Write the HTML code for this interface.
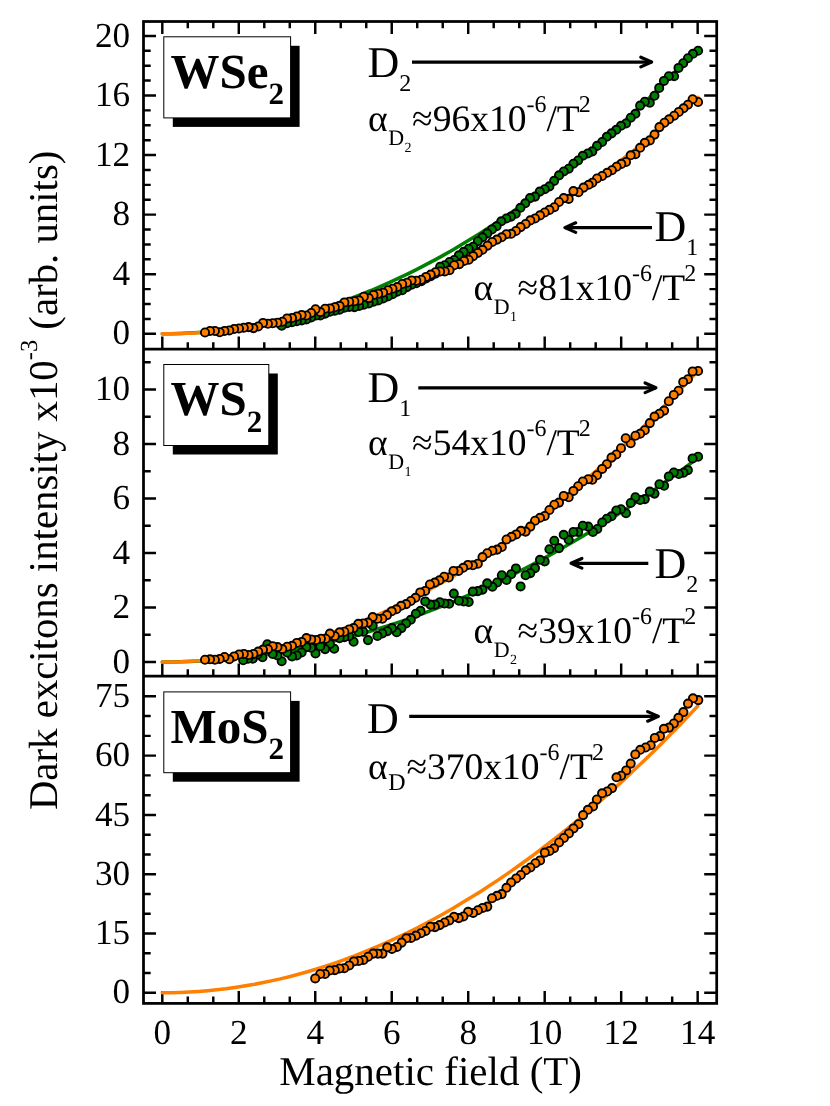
<!DOCTYPE html>
<html><head><meta charset="utf-8"><title>Dark excitons intensity</title>
<style>html,body{margin:0;padding:0;background:#fff}body{width:830px;height:1106px;overflow:hidden;font-family:"Liberation Serif",serif}</style>
</head><body>
<svg width="830" height="1106" viewBox="0 0 830 1106" text-rendering="geometricPrecision" style="display:block;will-change:transform;font-family:'Liberation Serif',serif">
<rect x="0" y="0" width="830" height="1106" fill="#fff"/>
<g stroke="#000" stroke-width="2.45" fill="none">
<rect x="143.5" y="21.5" width="573.2" height="981.9" stroke-width="2.75"/>
<line x1="143.5" y1="349.0" x2="716.7" y2="349.0" stroke-width="2.75"/>
<line x1="143.5" y1="676.1" x2="716.7" y2="676.1" stroke-width="2.75"/>
<path d="M162.30 21.5v12.5M162.30 349.0v-12.5M162.30 676.1v-12.5M162.30 1003.4v-12.5M187.79 21.5v6.8M187.79 349.0v-6.8M187.79 676.1v-6.8M187.79 1003.4v-6.8M213.29 21.5v6.8M213.29 349.0v-6.8M213.29 676.1v-6.8M213.29 1003.4v-6.8M238.78 21.5v12.5M238.78 349.0v-12.5M238.78 676.1v-12.5M238.78 1003.4v-12.5M264.27 21.5v6.8M264.27 349.0v-6.8M264.27 676.1v-6.8M264.27 1003.4v-6.8M289.77 21.5v6.8M289.77 349.0v-6.8M289.77 676.1v-6.8M289.77 1003.4v-6.8M315.26 21.5v12.5M315.26 349.0v-12.5M315.26 676.1v-12.5M315.26 1003.4v-12.5M340.75 21.5v6.8M340.75 349.0v-6.8M340.75 676.1v-6.8M340.75 1003.4v-6.8M366.25 21.5v6.8M366.25 349.0v-6.8M366.25 676.1v-6.8M366.25 1003.4v-6.8M391.74 21.5v12.5M391.74 349.0v-12.5M391.74 676.1v-12.5M391.74 1003.4v-12.5M417.23 21.5v6.8M417.23 349.0v-6.8M417.23 676.1v-6.8M417.23 1003.4v-6.8M442.73 21.5v6.8M442.73 349.0v-6.8M442.73 676.1v-6.8M442.73 1003.4v-6.8M468.22 21.5v12.5M468.22 349.0v-12.5M468.22 676.1v-12.5M468.22 1003.4v-12.5M493.71 21.5v6.8M493.71 349.0v-6.8M493.71 676.1v-6.8M493.71 1003.4v-6.8M519.21 21.5v6.8M519.21 349.0v-6.8M519.21 676.1v-6.8M519.21 1003.4v-6.8M544.70 21.5v12.5M544.70 349.0v-12.5M544.70 676.1v-12.5M544.70 1003.4v-12.5M570.19 21.5v6.8M570.19 349.0v-6.8M570.19 676.1v-6.8M570.19 1003.4v-6.8M595.69 21.5v6.8M595.69 349.0v-6.8M595.69 676.1v-6.8M595.69 1003.4v-6.8M621.18 21.5v12.5M621.18 349.0v-12.5M621.18 676.1v-12.5M621.18 1003.4v-12.5M646.67 21.5v6.8M646.67 349.0v-6.8M646.67 676.1v-6.8M646.67 1003.4v-6.8M672.17 21.5v6.8M672.17 349.0v-6.8M672.17 676.1v-6.8M672.17 1003.4v-6.8M697.66 21.5v12.5M697.66 349.0v-12.5M697.66 676.1v-12.5M697.66 1003.4v-12.5M143.5 333.80h12.5M716.7 333.80h-12.5M143.5 274.22h12.5M716.7 274.22h-12.5M143.5 214.64h12.5M716.7 214.64h-12.5M143.5 155.06h12.5M716.7 155.06h-12.5M143.5 95.48h12.5M716.7 95.48h-12.5M143.5 35.90h12.5M716.7 35.90h-12.5M143.5 318.91h7.2M716.7 318.91h-7.2M143.5 304.01h7.2M716.7 304.01h-7.2M143.5 289.12h7.2M716.7 289.12h-7.2M143.5 259.33h7.2M716.7 259.33h-7.2M143.5 244.43h7.2M716.7 244.43h-7.2M143.5 229.54h7.2M716.7 229.54h-7.2M143.5 199.75h7.2M716.7 199.75h-7.2M143.5 184.85h7.2M716.7 184.85h-7.2M143.5 169.96h7.2M716.7 169.96h-7.2M143.5 140.17h7.2M716.7 140.17h-7.2M143.5 125.27h7.2M716.7 125.27h-7.2M143.5 110.38h7.2M716.7 110.38h-7.2M143.5 80.59h7.2M716.7 80.59h-7.2M143.5 65.69h7.2M716.7 65.69h-7.2M143.5 50.80h7.2M716.7 50.80h-7.2M143.5 662.00h12.5M716.7 662.00h-12.5M143.5 607.50h12.5M716.7 607.50h-12.5M143.5 553.00h12.5M716.7 553.00h-12.5M143.5 498.50h12.5M716.7 498.50h-12.5M143.5 444.00h12.5M716.7 444.00h-12.5M143.5 389.50h12.5M716.7 389.50h-12.5M143.5 634.75h7.2M716.7 634.75h-7.2M143.5 580.25h7.2M716.7 580.25h-7.2M143.5 525.75h7.2M716.7 525.75h-7.2M143.5 471.25h7.2M716.7 471.25h-7.2M143.5 416.75h7.2M716.7 416.75h-7.2M143.5 362.25h7.2M716.7 362.25h-7.2M143.5 992.80h12.5M716.7 992.80h-12.5M143.5 933.50h12.5M716.7 933.50h-12.5M143.5 874.21h12.5M716.7 874.21h-12.5M143.5 814.91h12.5M716.7 814.91h-12.5M143.5 755.62h12.5M716.7 755.62h-12.5M143.5 696.33h12.5M716.7 696.33h-12.5M143.5 973.03h7.2M716.7 973.03h-7.2M143.5 953.27h7.2M716.7 953.27h-7.2M143.5 913.74h7.2M716.7 913.74h-7.2M143.5 893.97h7.2M716.7 893.97h-7.2M143.5 854.44h7.2M716.7 854.44h-7.2M143.5 834.68h7.2M716.7 834.68h-7.2M143.5 795.15h7.2M716.7 795.15h-7.2M143.5 775.38h7.2M716.7 775.38h-7.2M143.5 735.86h7.2M716.7 735.86h-7.2M143.5 716.09h7.2M716.7 716.09h-7.2"/>
</g>
<polyline points="162.3,333.8 171.4,333.7 180.4,333.5 189.5,333.1 198.6,332.5 207.7,331.8 216.7,330.9 225.8,329.8 234.9,328.6 244.0,327.2 253.0,325.6 262.1,323.9 271.2,322.0 280.3,320.0 289.3,317.7 298.4,315.4 307.5,312.8 316.6,310.1 325.6,307.3 334.7,304.2 343.8,301.0 352.9,297.7 361.9,294.1 371.0,290.5 380.1,286.6 389.1,282.6 398.2,278.4 407.3,274.1 416.4,269.6 425.4,264.9 434.5,260.1 443.6,255.1 452.7,249.9 461.7,244.6 470.8,239.1 479.9,233.4 489.0,227.6 498.0,221.6 507.1,215.5 516.2,209.2 525.3,202.7 534.3,196.1 543.4,189.3 552.5,182.3 561.6,175.2 570.6,167.9 579.7,160.4 588.8,152.8 597.8,145.0 606.9,137.1 616.0,129.0 625.1,120.7 634.1,112.2 643.2,103.6 652.3,94.9 661.4,85.9 670.4,76.8 679.5,67.6 688.6,58.2 697.7,48.6" fill="none" stroke="#008000" stroke-width="3.5" stroke-linecap="round"/>
<polyline points="162.3,333.8 171.4,333.7 180.4,333.5 189.5,333.2 198.6,332.7 207.7,332.1 216.7,331.4 225.8,330.5 234.9,329.5 244.0,328.3 253.0,327.0 262.1,325.6 271.2,324.0 280.3,322.3 289.3,320.5 298.4,318.5 307.5,316.4 316.6,314.2 325.6,311.8 334.7,309.3 343.8,306.6 352.9,303.8 361.9,300.9 371.0,297.9 380.1,294.7 389.1,291.3 398.2,287.9 407.3,284.3 416.4,280.5 425.4,276.7 434.5,272.7 443.6,268.5 452.7,264.2 461.7,259.8 470.8,255.3 479.9,250.6 489.0,245.8 498.0,240.8 507.1,235.7 516.2,230.5 525.3,225.1 534.3,219.6 543.4,214.0 552.5,208.2 561.6,202.3 570.6,196.2 579.7,190.1 588.8,183.7 597.8,177.3 606.9,170.7 616.0,164.0 625.1,157.1 634.1,150.1 643.2,143.0 652.3,135.7 661.4,128.3 670.4,120.8 679.5,113.1 688.6,105.3 697.7,97.3" fill="none" stroke="#ff7f00" stroke-width="3.5" stroke-linecap="round"/>
<polyline points="162.3,662.0 171.4,661.9 180.4,661.8 189.5,661.5 198.6,661.1 207.7,660.5 216.7,659.9 225.8,659.1 234.9,658.2 244.0,657.3 253.0,656.1 262.1,654.9 271.2,653.6 280.3,652.1 289.3,650.5 298.4,648.8 307.5,647.0 316.6,645.1 325.6,643.0 334.7,640.8 343.8,638.6 352.9,636.2 361.9,633.6 371.0,631.0 380.1,628.2 389.1,625.4 398.2,622.4 407.3,619.3 416.4,616.0 425.4,612.7 434.5,609.2 443.6,605.7 452.7,602.0 461.7,598.2 470.8,594.2 479.9,590.2 489.0,586.0 498.0,581.8 507.1,577.4 516.2,572.9 525.3,568.2 534.3,563.5 543.4,558.6 552.5,553.6 561.6,548.5 570.6,543.3 579.7,538.0 588.8,532.5 597.8,527.0 606.9,521.3 616.0,515.5 625.1,509.6 634.1,503.5 643.2,497.4 652.3,491.1 661.4,484.7 670.4,478.2 679.5,471.6 688.6,464.8 697.7,458.0" fill="none" stroke="#008000" stroke-width="3.5" stroke-linecap="round"/>
<polyline points="162.3,662.0 171.4,661.9 180.4,661.7 189.5,661.2 198.6,660.7 207.7,659.9 216.7,659.0 225.8,657.9 234.9,656.6 244.0,655.2 253.0,653.6 262.1,651.9 271.2,650.0 280.3,647.9 289.3,645.6 298.4,643.2 307.5,640.6 316.6,637.8 325.6,634.9 334.7,631.8 343.8,628.6 352.9,625.1 361.9,621.5 371.0,617.8 380.1,613.8 389.1,609.7 398.2,605.5 407.3,601.0 416.4,596.4 425.4,591.7 434.5,586.7 443.6,581.6 452.7,576.4 461.7,570.9 470.8,565.3 479.9,559.6 489.0,553.6 498.0,547.5 507.1,541.3 516.2,534.8 525.3,528.2 534.3,521.4 543.4,514.5 552.5,507.4 561.6,500.1 570.6,492.7 579.7,485.1 588.8,477.3 597.8,469.3 606.9,461.2 616.0,452.9 625.1,444.5 634.1,435.9 643.2,427.1 652.3,418.2 661.4,409.0 670.4,399.8 679.5,390.3 688.6,380.7 697.7,370.9" fill="none" stroke="#ff7f00" stroke-width="3.5" stroke-linecap="round"/>
<polyline points="162.3,992.8 171.4,992.7 180.4,992.5 189.5,992.1 198.6,991.5 207.7,990.7 216.7,989.8 225.8,988.8 234.9,987.5 244.0,986.1 253.0,984.6 262.1,982.8 271.2,980.9 280.3,978.9 289.3,976.7 298.4,974.3 307.5,971.7 316.6,969.0 325.6,966.1 334.7,963.1 343.8,959.9 352.9,956.5 361.9,952.9 371.0,949.2 380.1,945.4 389.1,941.3 398.2,937.1 407.3,932.8 416.4,928.2 425.4,923.5 434.5,918.7 443.6,913.7 452.7,908.5 461.7,903.1 470.8,897.6 479.9,891.9 489.0,886.1 498.0,880.1 507.1,873.9 516.2,867.5 525.3,861.0 534.3,854.4 543.4,847.5 552.5,840.5 561.6,833.4 570.6,826.0 579.7,818.5 588.8,810.9 597.8,803.1 606.9,795.1 616.0,786.9 625.1,778.6 634.1,770.1 643.2,761.5 652.3,752.7 661.4,743.7 670.4,734.5 679.5,725.2 688.6,715.8 697.7,706.1" fill="none" stroke="#ff7f00" stroke-width="3.5" stroke-linecap="round"/>
<g fill="#008000" stroke="#000" stroke-width="1.85"><circle cx="698.1" cy="50.7" r="4.1"/><circle cx="692.9" cy="53.8" r="4.1"/><circle cx="687.9" cy="58.2" r="4.1"/><circle cx="683.2" cy="63.2" r="4.1"/><circle cx="678.5" cy="67.9" r="4.1"/><circle cx="674.1" cy="76.2" r="4.1"/><circle cx="668.8" cy="76.2" r="4.1"/><circle cx="663.9" cy="80.9" r="4.1"/><circle cx="659.2" cy="87.9" r="4.1"/><circle cx="654.5" cy="95.8" r="4.1"/><circle cx="649.8" cy="102.8" r="4.1"/><circle cx="644.8" cy="101.7" r="4.1"/><circle cx="640.1" cy="105.6" r="4.1"/><circle cx="635.4" cy="113.8" r="4.1"/><circle cx="630.7" cy="117.7" r="4.1"/><circle cx="626.0" cy="123.5" r="4.1"/><circle cx="621.0" cy="125.8" r="4.1"/><circle cx="616.3" cy="129.8" r="4.1"/><circle cx="611.5" cy="133.4" r="4.1"/><circle cx="606.8" cy="136.8" r="4.1"/><circle cx="602.1" cy="142.0" r="4.1"/><circle cx="597.0" cy="145.9" r="4.1"/><circle cx="592.3" cy="151.4" r="4.1"/><circle cx="587.8" cy="153.5" r="4.1"/><circle cx="582.8" cy="155.8" r="4.1"/><circle cx="578.1" cy="160.5" r="4.1"/><circle cx="573.4" cy="163.7" r="4.1"/><circle cx="568.7" cy="168.7" r="4.1"/><circle cx="563.7" cy="171.5" r="4.1"/><circle cx="559.0" cy="175.4" r="4.1"/><circle cx="554.1" cy="180.9" r="4.1"/><circle cx="549.4" cy="186.4" r="4.1"/><circle cx="544.7" cy="189.2" r="4.1"/><circle cx="539.7" cy="191.6" r="4.1"/><circle cx="535.0" cy="196.6" r="4.1"/><circle cx="530.0" cy="198.1" r="4.1"/><circle cx="525.3" cy="203.3" r="4.1"/><circle cx="520.4" cy="207.8" r="4.1"/><circle cx="515.7" cy="213.8" r="4.1"/><circle cx="511.0" cy="216.6" r="4.1"/><circle cx="506.3" cy="218.5" r="4.1"/><circle cx="501.3" cy="221.3" r="4.1"/><circle cx="496.6" cy="226.3" r="4.1"/><circle cx="491.9" cy="229.5" r="4.1"/><circle cx="487.2" cy="233.4" r="4.1"/><circle cx="482.5" cy="237.3" r="4.1"/><circle cx="477.8" cy="241.2" r="4.1"/><circle cx="473.1" cy="246.7" r="4.1"/><circle cx="468.7" cy="248.7" r="4.1"/><circle cx="463.6" cy="251.9" r="4.1"/><circle cx="458.9" cy="255.3" r="4.1"/><circle cx="454.2" cy="260.0" r="4.1"/><circle cx="449.5" cy="262.0" r="4.1"/><circle cx="444.8" cy="265.2" r="4.1"/><circle cx="440.1" cy="266.7" r="4.1"/><circle cx="435.4" cy="273.8" r="4.1"/><circle cx="430.7" cy="276.1" r="4.1"/><circle cx="426.0" cy="278.5" r="4.1"/><circle cx="421.3" cy="281.2" r="4.1"/><circle cx="416.3" cy="283.2" r="4.1"/><circle cx="411.6" cy="284.8" r="4.1"/><circle cx="406.9" cy="287.1" r="4.1"/><circle cx="402.2" cy="290.2" r="4.1"/><circle cx="397.2" cy="291.8" r="4.1"/><circle cx="392.5" cy="294.2" r="4.1"/><circle cx="387.8" cy="296.5" r="4.1"/><circle cx="383.1" cy="298.5" r="4.1"/><circle cx="378.2" cy="300.4" r="4.1"/><circle cx="373.5" cy="301.7" r="4.1"/><circle cx="368.8" cy="303.5" r="4.1"/><circle cx="363.8" cy="304.8" r="4.1"/><circle cx="359.1" cy="305.9" r="4.1"/><circle cx="354.4" cy="307.1" r="4.1"/><circle cx="349.2" cy="306.9" r="4.1"/><circle cx="344.4" cy="307.8" r="4.1"/><circle cx="339.6" cy="309.8" r="4.1"/><circle cx="334.8" cy="310.7" r="4.1"/><circle cx="329.9" cy="311.7" r="4.1"/><circle cx="325.1" cy="313.6" r="4.1"/><circle cx="320.3" cy="315.5" r="4.1"/><circle cx="316.1" cy="315.5" r="4.1"/><circle cx="311.2" cy="317.5" r="4.1"/><circle cx="306.4" cy="319.4" r="4.1"/><circle cx="301.6" cy="320.4" r="4.1"/><circle cx="296.8" cy="321.3" r="4.1"/><circle cx="292.0" cy="322.3" r="4.1"/><circle cx="287.1" cy="323.3" r="4.1"/><circle cx="281.7" cy="325.8" r="4.1"/></g>
<g fill="#ff7f00" stroke="#000" stroke-width="1.85"><circle cx="698.1" cy="102.0" r="4.1"/><circle cx="692.6" cy="99.2" r="4.1"/><circle cx="687.9" cy="104.7" r="4.1"/><circle cx="683.5" cy="108.3" r="4.1"/><circle cx="678.8" cy="111.9" r="4.1"/><circle cx="674.1" cy="115.7" r="4.1"/><circle cx="669.1" cy="119.3" r="4.1"/><circle cx="664.4" cy="122.7" r="4.1"/><circle cx="659.4" cy="127.1" r="4.1"/><circle cx="654.5" cy="134.6" r="4.1"/><circle cx="649.8" cy="140.4" r="4.1"/><circle cx="644.8" cy="142.8" r="4.1"/><circle cx="640.1" cy="147.8" r="4.1"/><circle cx="635.4" cy="154.2" r="4.1"/><circle cx="630.7" cy="155.3" r="4.1"/><circle cx="626.0" cy="162.0" r="4.1"/><circle cx="621.3" cy="163.9" r="4.1"/><circle cx="616.6" cy="166.7" r="4.1"/><circle cx="611.9" cy="170.2" r="4.1"/><circle cx="607.2" cy="172.8" r="4.1"/><circle cx="602.1" cy="176.0" r="4.1"/><circle cx="597.0" cy="178.5" r="4.1"/><circle cx="592.3" cy="182.7" r="4.1"/><circle cx="588.6" cy="184.8" r="4.1"/><circle cx="583.5" cy="187.6" r="4.1"/><circle cx="578.5" cy="192.2" r="4.1"/><circle cx="573.4" cy="191.1" r="4.1"/><circle cx="568.7" cy="198.9" r="4.1"/><circle cx="563.7" cy="198.1" r="4.1"/><circle cx="559.0" cy="202.0" r="4.1"/><circle cx="554.3" cy="207.2" r="4.1"/><circle cx="549.4" cy="209.9" r="4.1"/><circle cx="544.7" cy="212.5" r="4.1"/><circle cx="540.0" cy="215.4" r="4.1"/><circle cx="535.0" cy="218.5" r="4.1"/><circle cx="530.3" cy="220.4" r="4.1"/><circle cx="525.6" cy="224.0" r="4.1"/><circle cx="520.6" cy="227.1" r="4.1"/><circle cx="515.9" cy="231.0" r="4.1"/><circle cx="511.2" cy="233.8" r="4.1"/><circle cx="506.3" cy="234.2" r="4.1"/><circle cx="501.6" cy="237.3" r="4.1"/><circle cx="496.9" cy="239.6" r="4.1"/><circle cx="492.2" cy="242.0" r="4.1"/><circle cx="487.5" cy="245.6" r="4.1"/><circle cx="482.5" cy="249.8" r="4.1"/><circle cx="477.8" cy="252.9" r="4.1"/><circle cx="473.1" cy="256.1" r="4.1"/><circle cx="468.7" cy="259.7" r="4.1"/><circle cx="464.0" cy="260.9" r="4.1"/><circle cx="459.3" cy="264.1" r="4.1"/><circle cx="454.2" cy="265.2" r="4.1"/><circle cx="449.5" cy="270.2" r="4.1"/><circle cx="444.8" cy="271.4" r="4.1"/><circle cx="440.1" cy="271.4" r="4.1"/><circle cx="435.4" cy="272.2" r="4.1"/><circle cx="430.7" cy="274.6" r="4.1"/><circle cx="426.0" cy="276.9" r="4.1"/><circle cx="421.3" cy="279.7" r="4.1"/><circle cx="416.3" cy="280.8" r="4.1"/><circle cx="411.6" cy="280.4" r="4.1"/><circle cx="406.9" cy="282.7" r="4.1"/><circle cx="402.2" cy="284.0" r="4.1"/><circle cx="397.2" cy="287.1" r="4.1"/><circle cx="392.5" cy="288.7" r="4.1"/><circle cx="387.8" cy="290.2" r="4.1"/><circle cx="383.1" cy="292.6" r="4.1"/><circle cx="378.2" cy="293.8" r="4.1"/><circle cx="373.5" cy="294.9" r="4.1"/><circle cx="368.8" cy="298.1" r="4.1"/><circle cx="363.8" cy="296.8" r="4.1"/><circle cx="359.1" cy="300.4" r="4.1"/><circle cx="354.4" cy="301.2" r="4.1"/><circle cx="349.2" cy="301.7" r="4.1"/><circle cx="344.4" cy="302.4" r="4.1"/><circle cx="339.6" cy="305.9" r="4.1"/><circle cx="334.8" cy="307.3" r="4.1"/><circle cx="329.9" cy="308.4" r="4.1"/><circle cx="325.1" cy="308.8" r="4.1"/><circle cx="320.3" cy="312.1" r="4.1"/><circle cx="315.5" cy="309.2" r="4.1"/><circle cx="311.2" cy="313.0" r="4.1"/><circle cx="306.4" cy="315.5" r="4.1"/><circle cx="301.6" cy="315.0" r="4.1"/><circle cx="296.8" cy="316.5" r="4.1"/><circle cx="292.0" cy="317.9" r="4.1"/><circle cx="287.1" cy="318.4" r="4.1"/><circle cx="282.3" cy="321.7" r="4.1"/><circle cx="277.5" cy="322.7" r="4.1"/><circle cx="272.7" cy="323.3" r="4.1"/><circle cx="267.9" cy="323.8" r="4.1"/><circle cx="263.0" cy="322.9" r="4.1"/><circle cx="258.2" cy="326.5" r="4.1"/><circle cx="253.4" cy="328.1" r="4.1"/><circle cx="248.6" cy="327.1" r="4.1"/><circle cx="243.8" cy="327.7" r="4.1"/><circle cx="239.0" cy="328.5" r="4.1"/><circle cx="234.1" cy="329.0" r="4.1"/><circle cx="229.3" cy="330.4" r="4.1"/><circle cx="224.5" cy="331.0" r="4.1"/><circle cx="219.7" cy="332.3" r="4.1"/><circle cx="214.9" cy="331.0" r="4.1"/><circle cx="210.0" cy="331.0" r="4.1"/><circle cx="205.0" cy="332.5" r="4.1"/></g>
<g fill="#008000" stroke="#000" stroke-width="1.85"><circle cx="698.1" cy="456.8" r="4.1"/><circle cx="692.6" cy="458.4" r="4.1"/><circle cx="687.9" cy="470.1" r="4.1"/><circle cx="683.5" cy="472.8" r="4.1"/><circle cx="678.8" cy="474.0" r="4.1"/><circle cx="673.8" cy="472.5" r="4.1"/><circle cx="668.8" cy="476.4" r="4.1"/><circle cx="664.1" cy="485.8" r="4.1"/><circle cx="659.4" cy="484.2" r="4.1"/><circle cx="654.5" cy="493.6" r="4.1"/><circle cx="649.8" cy="491.6" r="4.1"/><circle cx="644.8" cy="499.1" r="4.1"/><circle cx="640.1" cy="499.9" r="4.1"/><circle cx="635.4" cy="497.2" r="4.1"/><circle cx="630.7" cy="503.0" r="4.1"/><circle cx="626.0" cy="513.2" r="4.1"/><circle cx="621.0" cy="509.3" r="4.1"/><circle cx="616.3" cy="510.5" r="4.1"/><circle cx="611.5" cy="516.3" r="4.1"/><circle cx="606.8" cy="518.7" r="4.1"/><circle cx="602.2" cy="522.5" r="4.1"/><circle cx="597.3" cy="529.0" r="4.1"/><circle cx="592.9" cy="531.9" r="4.1"/><circle cx="588.2" cy="526.6" r="4.1"/><circle cx="582.8" cy="525.7" r="4.1"/><circle cx="578.1" cy="531.9" r="4.1"/><circle cx="573.4" cy="531.9" r="4.1"/><circle cx="568.7" cy="539.8" r="4.1"/><circle cx="563.7" cy="534.8" r="4.1"/><circle cx="559.0" cy="548.1" r="4.1"/><circle cx="554.3" cy="540.7" r="4.1"/><circle cx="549.4" cy="549.2" r="4.1"/><circle cx="544.7" cy="561.4" r="4.1"/><circle cx="540.0" cy="559.8" r="4.1"/><circle cx="535.0" cy="568.1" r="4.1"/><circle cx="530.3" cy="573.1" r="4.1"/><circle cx="525.6" cy="575.2" r="4.1"/><circle cx="520.6" cy="586.4" r="4.1"/><circle cx="515.9" cy="568.4" r="4.1"/><circle cx="511.2" cy="574.2" r="4.1"/><circle cx="506.5" cy="579.9" r="4.1"/><circle cx="501.8" cy="575.2" r="4.1"/><circle cx="497.1" cy="582.5" r="4.1"/><circle cx="492.4" cy="586.8" r="4.1"/><circle cx="487.2" cy="583.3" r="4.1"/><circle cx="482.5" cy="589.6" r="4.1"/><circle cx="477.8" cy="591.1" r="4.1"/><circle cx="472.8" cy="591.6" r="4.1"/><circle cx="468.7" cy="601.9" r="4.1"/><circle cx="463.7" cy="601.4" r="4.1"/><circle cx="458.9" cy="600.7" r="4.1"/><circle cx="453.8" cy="593.6" r="4.1"/><circle cx="449.2" cy="603.8" r="4.1"/><circle cx="444.5" cy="603.5" r="4.1"/><circle cx="439.8" cy="602.2" r="4.1"/><circle cx="435.1" cy="604.6" r="4.1"/><circle cx="430.4" cy="604.6" r="4.1"/><circle cx="425.2" cy="601.4" r="4.1"/><circle cx="420.5" cy="610.8" r="4.1"/><circle cx="415.8" cy="613.7" r="4.1"/><circle cx="410.8" cy="619.8" r="4.1"/><circle cx="406.1" cy="623.4" r="4.1"/><circle cx="401.4" cy="628.1" r="4.1"/><circle cx="396.7" cy="632.3" r="4.1"/><circle cx="392.0" cy="628.1" r="4.1"/><circle cx="387.3" cy="631.2" r="4.1"/><circle cx="382.3" cy="633.5" r="4.1"/><circle cx="377.4" cy="635.9" r="4.1"/><circle cx="372.7" cy="625.7" r="4.1"/><circle cx="368.0" cy="640.1" r="4.1"/><circle cx="363.3" cy="631.7" r="4.1"/><circle cx="358.6" cy="632.0" r="4.1"/><circle cx="353.6" cy="641.7" r="4.1"/><circle cx="349.2" cy="636.1" r="4.1"/><circle cx="344.4" cy="637.1" r="4.1"/><circle cx="339.6" cy="638.1" r="4.1"/><circle cx="334.2" cy="648.7" r="4.1"/><circle cx="329.9" cy="643.9" r="4.1"/><circle cx="325.1" cy="649.1" r="4.1"/><circle cx="320.3" cy="646.2" r="4.1"/><circle cx="315.5" cy="653.5" r="4.1"/><circle cx="311.2" cy="647.7" r="4.1"/><circle cx="306.4" cy="647.1" r="4.1"/><circle cx="301.6" cy="652.5" r="4.1"/><circle cx="296.8" cy="655.4" r="4.1"/><circle cx="292.0" cy="656.4" r="4.1"/><circle cx="287.1" cy="652.5" r="4.1"/><circle cx="281.7" cy="661.2" r="4.1"/><circle cx="277.5" cy="655.4" r="4.1"/><circle cx="272.7" cy="653.9" r="4.1"/><circle cx="267.3" cy="644.2" r="4.1"/><circle cx="262.5" cy="657.3" r="4.1"/><circle cx="257.7" cy="654.5" r="4.1"/><circle cx="252.8" cy="658.7" r="4.1"/><circle cx="248.0" cy="658.7" r="4.1"/><circle cx="243.2" cy="660.2" r="4.1"/></g>
<g fill="#ff7f00" stroke="#000" stroke-width="1.85"><circle cx="698.1" cy="371.0" r="4.1"/><circle cx="692.6" cy="371.4" r="4.1"/><circle cx="687.9" cy="379.3" r="4.1"/><circle cx="683.2" cy="381.9" r="4.1"/><circle cx="678.5" cy="390.7" r="4.1"/><circle cx="673.8" cy="394.9" r="4.1"/><circle cx="668.8" cy="401.2" r="4.1"/><circle cx="664.1" cy="410.6" r="4.1"/><circle cx="659.4" cy="413.7" r="4.1"/><circle cx="654.5" cy="416.6" r="4.1"/><circle cx="649.8" cy="423.1" r="4.1"/><circle cx="644.8" cy="430.2" r="4.1"/><circle cx="640.1" cy="433.8" r="4.1"/><circle cx="635.4" cy="435.7" r="4.1"/><circle cx="630.7" cy="443.2" r="4.1"/><circle cx="625.7" cy="438.3" r="4.1"/><circle cx="621.0" cy="448.2" r="4.1"/><circle cx="616.3" cy="454.5" r="4.1"/><circle cx="611.5" cy="457.6" r="4.1"/><circle cx="606.8" cy="464.2" r="4.1"/><circle cx="602.1" cy="468.9" r="4.1"/><circle cx="597.0" cy="475.3" r="4.1"/><circle cx="592.3" cy="479.8" r="4.1"/><circle cx="588.2" cy="479.2" r="4.1"/><circle cx="582.8" cy="481.5" r="4.1"/><circle cx="578.1" cy="486.2" r="4.1"/><circle cx="573.4" cy="490.9" r="4.1"/><circle cx="568.7" cy="497.2" r="4.1"/><circle cx="563.7" cy="495.9" r="4.1"/><circle cx="559.0" cy="502.6" r="4.1"/><circle cx="554.3" cy="504.7" r="4.1"/><circle cx="549.4" cy="510.0" r="4.1"/><circle cx="544.7" cy="516.0" r="4.1"/><circle cx="540.0" cy="517.8" r="4.1"/><circle cx="535.0" cy="520.7" r="4.1"/><circle cx="530.3" cy="526.6" r="4.1"/><circle cx="525.6" cy="531.6" r="4.1"/><circle cx="520.9" cy="530.8" r="4.1"/><circle cx="516.2" cy="534.4" r="4.1"/><circle cx="511.5" cy="536.8" r="4.1"/><circle cx="506.5" cy="539.5" r="4.1"/><circle cx="501.8" cy="547.0" r="4.1"/><circle cx="497.1" cy="549.6" r="4.1"/><circle cx="492.4" cy="550.7" r="4.1"/><circle cx="487.2" cy="553.2" r="4.1"/><circle cx="482.5" cy="557.1" r="4.1"/><circle cx="477.8" cy="563.7" r="4.1"/><circle cx="472.8" cy="565.3" r="4.1"/><circle cx="467.9" cy="564.9" r="4.1"/><circle cx="463.2" cy="567.8" r="4.1"/><circle cx="458.5" cy="570.9" r="4.1"/><circle cx="453.5" cy="570.9" r="4.1"/><circle cx="448.8" cy="577.5" r="4.1"/><circle cx="444.1" cy="576.7" r="4.1"/><circle cx="439.4" cy="580.3" r="4.1"/><circle cx="434.7" cy="582.6" r="4.1"/><circle cx="429.9" cy="584.5" r="4.1"/><circle cx="425.2" cy="590.9" r="4.1"/><circle cx="420.2" cy="592.4" r="4.1"/><circle cx="415.5" cy="597.8" r="4.1"/><circle cx="410.8" cy="601.0" r="4.1"/><circle cx="406.1" cy="604.1" r="4.1"/><circle cx="401.1" cy="605.8" r="4.1"/><circle cx="396.4" cy="609.3" r="4.1"/><circle cx="391.7" cy="611.3" r="4.1"/><circle cx="387.0" cy="615.1" r="4.1"/><circle cx="382.3" cy="618.7" r="4.1"/><circle cx="377.4" cy="618.7" r="4.1"/><circle cx="372.7" cy="617.1" r="4.1"/><circle cx="368.0" cy="622.6" r="4.1"/><circle cx="363.3" cy="623.4" r="4.1"/><circle cx="358.3" cy="623.8" r="4.1"/><circle cx="353.6" cy="628.1" r="4.1"/><circle cx="349.2" cy="629.4" r="4.1"/><circle cx="344.4" cy="631.7" r="4.1"/><circle cx="339.6" cy="632.3" r="4.1"/><circle cx="334.8" cy="636.1" r="4.1"/><circle cx="329.9" cy="633.6" r="4.1"/><circle cx="325.7" cy="638.7" r="4.1"/><circle cx="320.9" cy="638.7" r="4.1"/><circle cx="316.1" cy="640.0" r="4.1"/><circle cx="311.2" cy="639.4" r="4.1"/><circle cx="306.4" cy="638.1" r="4.1"/><circle cx="301.6" cy="641.9" r="4.1"/><circle cx="296.8" cy="642.9" r="4.1"/><circle cx="292.0" cy="645.8" r="4.1"/><circle cx="287.1" cy="646.7" r="4.1"/><circle cx="282.3" cy="649.1" r="4.1"/><circle cx="277.5" cy="647.1" r="4.1"/><circle cx="272.7" cy="646.2" r="4.1"/><circle cx="267.9" cy="649.1" r="4.1"/><circle cx="263.0" cy="649.6" r="4.1"/><circle cx="258.2" cy="651.6" r="4.1"/><circle cx="253.4" cy="653.9" r="4.1"/><circle cx="248.6" cy="655.0" r="4.1"/><circle cx="243.8" cy="653.9" r="4.1"/><circle cx="239.0" cy="654.5" r="4.1"/><circle cx="234.1" cy="656.4" r="4.1"/><circle cx="229.3" cy="659.3" r="4.1"/><circle cx="224.5" cy="657.0" r="4.1"/><circle cx="219.7" cy="658.9" r="4.1"/><circle cx="214.9" cy="659.7" r="4.1"/><circle cx="210.0" cy="659.3" r="4.1"/><circle cx="205.0" cy="659.7" r="4.1"/></g>
<g fill="#ff7f00" stroke="#000" stroke-width="1.85"><circle cx="698.3" cy="700.1" r="4.1"/><circle cx="693.0" cy="698.3" r="4.1"/><circle cx="688.0" cy="703.6" r="4.1"/><circle cx="683.4" cy="712.1" r="4.1"/><circle cx="678.4" cy="717.8" r="4.1"/><circle cx="673.8" cy="723.5" r="4.1"/><circle cx="669.0" cy="727.6" r="4.1"/><circle cx="663.9" cy="728.8" r="4.1"/><circle cx="660.0" cy="736.1" r="4.1"/><circle cx="654.8" cy="737.9" r="4.1"/><circle cx="650.7" cy="745.2" r="4.1"/><circle cx="645.6" cy="747.5" r="4.1"/><circle cx="640.3" cy="749.8" r="4.1"/><circle cx="635.3" cy="754.4" r="4.1"/><circle cx="630.7" cy="763.6" r="4.1"/><circle cx="626.2" cy="770.4" r="4.1"/><circle cx="621.1" cy="775.7" r="4.1"/><circle cx="616.5" cy="777.3" r="4.1"/><circle cx="612.0" cy="788.1" r="4.1"/><circle cx="607.2" cy="791.5" r="4.1"/><circle cx="602.1" cy="793.3" r="4.1"/><circle cx="596.8" cy="799.5" r="4.1"/><circle cx="593.0" cy="806.4" r="4.1"/><circle cx="587.9" cy="809.8" r="4.1"/><circle cx="583.1" cy="815.1" r="4.1"/><circle cx="578.5" cy="824.2" r="4.1"/><circle cx="573.5" cy="828.4" r="4.1"/><circle cx="568.9" cy="833.4" r="4.1"/><circle cx="563.9" cy="838.0" r="4.1"/><circle cx="559.1" cy="842.5" r="4.1"/><circle cx="554.0" cy="848.3" r="4.1"/><circle cx="549.5" cy="851.0" r="4.1"/><circle cx="544.8" cy="852.6" r="4.1"/><circle cx="540.1" cy="860.4" r="4.1"/><circle cx="535.4" cy="863.2" r="4.1"/><circle cx="530.4" cy="867.5" r="4.1"/><circle cx="525.7" cy="870.3" r="4.1"/><circle cx="520.8" cy="875.0" r="4.1"/><circle cx="516.2" cy="878.4" r="4.1"/><circle cx="511.1" cy="882.5" r="4.1"/><circle cx="506.4" cy="887.8" r="4.1"/><circle cx="501.7" cy="894.1" r="4.1"/><circle cx="497.0" cy="895.8" r="4.1"/><circle cx="492.0" cy="898.2" r="4.1"/><circle cx="487.3" cy="906.6" r="4.1"/><circle cx="482.6" cy="907.9" r="4.1"/><circle cx="477.9" cy="910.2" r="4.1"/><circle cx="473.1" cy="912.9" r="4.1"/><circle cx="468.1" cy="911.8" r="4.1"/><circle cx="463.4" cy="916.5" r="4.1"/><circle cx="458.7" cy="918.1" r="4.1"/><circle cx="454.0" cy="916.8" r="4.1"/><circle cx="449.3" cy="920.4" r="4.1"/><circle cx="444.6" cy="922.5" r="4.1"/><circle cx="439.6" cy="925.1" r="4.1"/><circle cx="434.9" cy="927.1" r="4.1"/><circle cx="430.3" cy="926.7" r="4.1"/><circle cx="425.6" cy="930.9" r="4.1"/><circle cx="420.9" cy="933.2" r="4.1"/><circle cx="415.9" cy="935.6" r="4.1"/><circle cx="411.0" cy="937.9" r="4.1"/><circle cx="406.3" cy="938.3" r="4.1"/><circle cx="401.6" cy="942.6" r="4.1"/><circle cx="396.9" cy="946.9" r="4.1"/><circle cx="391.9" cy="948.9" r="4.1"/><circle cx="387.2" cy="947.3" r="4.1"/><circle cx="382.5" cy="953.6" r="4.1"/><circle cx="377.8" cy="953.6" r="4.1"/><circle cx="373.1" cy="953.6" r="4.1"/><circle cx="368.1" cy="956.7" r="4.1"/><circle cx="363.4" cy="959.9" r="4.1"/><circle cx="358.7" cy="961.0" r="4.1"/><circle cx="353.9" cy="961.4" r="4.1"/><circle cx="349.2" cy="965.4" r="4.1"/><circle cx="344.2" cy="968.2" r="4.1"/><circle cx="339.5" cy="968.5" r="4.1"/><circle cx="334.8" cy="970.1" r="4.1"/><circle cx="329.7" cy="970.5" r="4.1"/><circle cx="325.0" cy="974.0" r="4.1"/><circle cx="320.2" cy="974.0" r="4.1"/><circle cx="315.2" cy="978.4" r="4.1"/></g>
<g font-size="35.2" fill="#000">
<text x="162.3" y="1043.8" text-anchor="middle">0</text>
<text x="238.8" y="1043.8" text-anchor="middle">2</text>
<text x="315.3" y="1043.8" text-anchor="middle">4</text>
<text x="391.7" y="1043.8" text-anchor="middle">6</text>
<text x="468.2" y="1043.8" text-anchor="middle">8</text>
<text x="544.7" y="1043.8" text-anchor="middle">10</text>
<text x="621.2" y="1043.8" text-anchor="middle">12</text>
<text x="697.7" y="1043.8" text-anchor="middle">14</text>
<text x="130.2" y="344.4" text-anchor="end">0</text>
<text x="130.2" y="284.8" text-anchor="end">4</text>
<text x="130.2" y="225.2" text-anchor="end">8</text>
<text x="130.2" y="165.7" text-anchor="end">12</text>
<text x="130.2" y="106.1" text-anchor="end">16</text>
<text x="130.2" y="46.5" text-anchor="end">20</text>
<text x="130.2" y="672.6" text-anchor="end">0</text>
<text x="130.2" y="618.1" text-anchor="end">2</text>
<text x="130.2" y="563.6" text-anchor="end">4</text>
<text x="130.2" y="509.1" text-anchor="end">6</text>
<text x="130.2" y="454.6" text-anchor="end">8</text>
<text x="130.2" y="400.1" text-anchor="end">10</text>
<text x="130.2" y="1003.4" text-anchor="end">0</text>
<text x="130.2" y="944.1" text-anchor="end">15</text>
<text x="130.2" y="884.8" text-anchor="end">30</text>
<text x="130.2" y="825.5" text-anchor="end">45</text>
<text x="130.2" y="766.2" text-anchor="end">60</text>
<text x="130.2" y="706.9" text-anchor="end">75</text>
</g>
<text x="430.6" y="1085.2" font-size="41" text-anchor="middle">Magnetic field (T)</text>
<text transform="translate(57.1,810.1) rotate(-90)" font-size="40.8">Dark excitons intensity x10<tspan font-size="24.5" dy="-20">-3</tspan><tspan dy="20"> (arb. units)</tspan></text>
<rect x="172.8" y="45.8" width="126.80000000000001" height="81.10000000000001" fill="#000"/>
<rect x="163.8" y="36.8" width="126.80000000000001" height="81.10000000000001" fill="#fff" stroke="#000" stroke-width="1"/>
<text x="170.5" y="88.0" font-size="49" font-weight="bold">WSe<tspan font-size="31" dy="16.4">2</tspan></text>
<rect x="172.8" y="373.5" width="105.0" height="81.0" fill="#000"/>
<rect x="163.8" y="364.5" width="105.0" height="81.0" fill="#fff" stroke="#000" stroke-width="1"/>
<text x="170.5" y="415.2" font-size="49" font-weight="bold">WS<tspan font-size="31" dy="16.4">2</tspan></text>
<rect x="172.8" y="700.9" width="126.80000000000001" height="80.80000000000007" fill="#000"/>
<rect x="163.8" y="691.9" width="126.80000000000001" height="80.80000000000007" fill="#fff" stroke="#000" stroke-width="1"/>
<text x="170.5" y="743.0" font-size="49" font-weight="bold">MoS<tspan font-size="31" dy="16.4">2</tspan></text>
<text x="367.5" y="76.6" font-size="44">D<tspan font-size="24" dx="0" dy="14.5">2</tspan></text>
<g stroke="#000" stroke-width="3.2" fill="none" stroke-linecap="round" stroke-linejoin="round"><line x1="412" y1="62.05" x2="651.6" y2="62.05" stroke-linecap="butt"/><polyline points="640.80,57.25 651.60,62.05 640.80,66.85"/></g>
<text x="368" y="131.3" font-size="37.5">α<tspan font-size="22" dx="0.5" dy="14">D</tspan><tspan font-size="14" dx="0.5" dy="7">2</tspan><tspan dx="0.5" dy="-21">≈96x10</tspan><tspan font-size="24" dy="-19">-6</tspan><tspan dy="19">/T</tspan><tspan font-size="24" dx="-1" dy="-19">2</tspan></text>
<text x="654.5" y="240.8" font-size="44">D<tspan font-size="24" dx="0" dy="14.5">1</tspan></text>
<g stroke="#000" stroke-width="3.2" fill="none" stroke-linecap="round" stroke-linejoin="round"><line x1="652" y1="227.6" x2="564.9" y2="227.6" stroke-linecap="butt"/><polyline points="575.70,222.79999999999998 564.90,227.6 575.70,232.4"/></g>
<text x="473.5" y="299.5" font-size="37.5">α<tspan font-size="22" dx="0.5" dy="14">D</tspan><tspan font-size="14" dx="0.5" dy="7">1</tspan><tspan dx="0.5" dy="-21">≈81x10</tspan><tspan font-size="24" dy="-19">-6</tspan><tspan dy="19">/T</tspan><tspan font-size="24" dx="-1" dy="-19">2</tspan></text>
<text x="367.5" y="401.5" font-size="44">D<tspan font-size="24" dx="0" dy="14.5">1</tspan></text>
<g stroke="#000" stroke-width="3.2" fill="none" stroke-linecap="round" stroke-linejoin="round"><line x1="418.3" y1="387.8" x2="655.9" y2="387.8" stroke-linecap="butt"/><polyline points="645.10,383.0 655.90,387.8 645.10,392.6"/></g>
<text x="368" y="455" font-size="37.5">α<tspan font-size="22" dx="0.5" dy="14">D</tspan><tspan font-size="14" dx="0.5" dy="7">1</tspan><tspan dx="0.5" dy="-21">≈54x10</tspan><tspan font-size="24" dy="-19">-6</tspan><tspan dy="19">/T</tspan><tspan font-size="24" dx="-1" dy="-19">2</tspan></text>
<text x="654.5" y="577.5" font-size="44">D<tspan font-size="24" dx="0" dy="14.5">2</tspan></text>
<g stroke="#000" stroke-width="3.2" fill="none" stroke-linecap="round" stroke-linejoin="round"><line x1="648.3" y1="563.3" x2="571.1" y2="563.3" stroke-linecap="butt"/><polyline points="581.90,558.5 571.10,563.3 581.90,568.0999999999999"/></g>
<text x="473.5" y="642.5" font-size="37.5">α<tspan font-size="22" dx="0.5" dy="14">D</tspan><tspan font-size="14" dx="0.5" dy="7">2</tspan><tspan dx="0.5" dy="-21">≈39x10</tspan><tspan font-size="24" dy="-19">-6</tspan><tspan dy="19">/T</tspan><tspan font-size="24" dx="-1" dy="-19">2</tspan></text>
<text x="367" y="733.2" font-size="44">D</text>
<g stroke="#000" stroke-width="3.2" fill="none" stroke-linecap="round" stroke-linejoin="round"><line x1="409.2" y1="716.4" x2="658.4" y2="716.4" stroke-linecap="butt"/><polyline points="647.60,711.6 658.40,716.4 647.60,721.1999999999999"/></g>
<text x="368" y="778.8" font-size="37.5">α<tspan font-size="24" dx="0.5" dy="11.5">D</tspan><tspan dx="1.0" dy="-11.5">≈370x10</tspan><tspan font-size="24" dy="-19">-6</tspan><tspan dy="19">/T</tspan><tspan font-size="24" dx="-1" dy="-19">2</tspan></text>
</svg>
</body></html>
